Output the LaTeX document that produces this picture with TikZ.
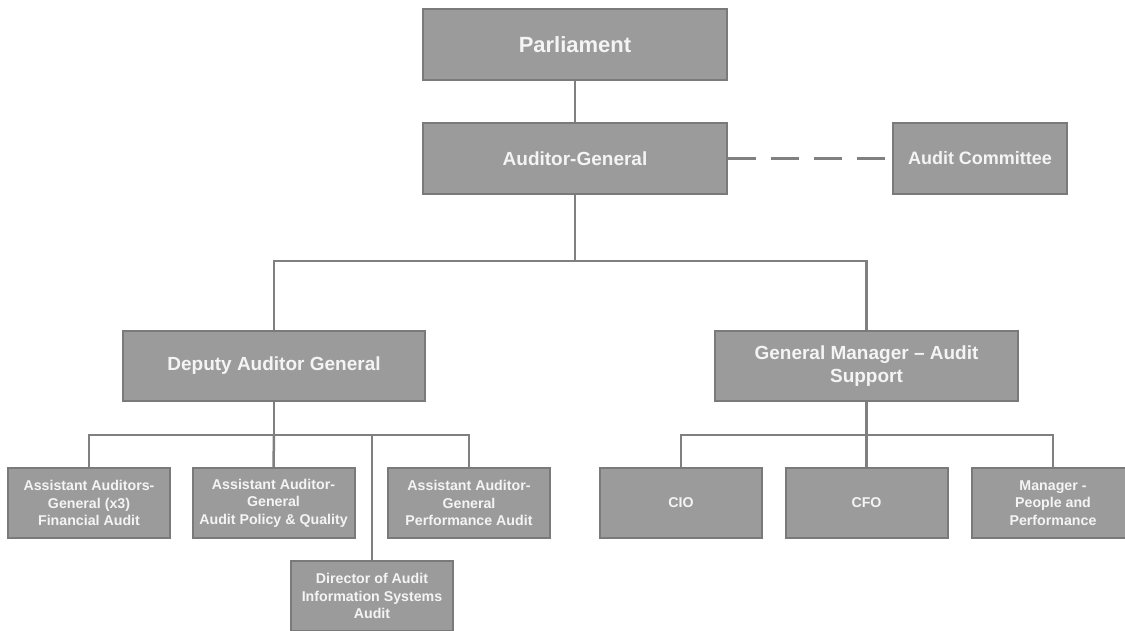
\documentclass[tikz,border=0pt]{standalone}
\usepackage{fontspec}
\setmainfont{Liberation Sans}
\definecolor{boxfill}{HTML}{9B9B9B}
\definecolor{boxline}{HTML}{7A7A7A}
\definecolor{linkline}{HTML}{808080}
\definecolor{boxtext}{HTML}{F4F4F4}

\begin{document}
\begin{tikzpicture}[x=1pt,y=-1pt,
    box/.style={rectangle,draw=boxline,line width=2pt,fill=boxfill,
      text=boxtext,align=center,inner sep=0pt,font=\bfseries},
    headbox/.style={box,minimum width=304,minimum height=71},
    unitbox/.style={box,minimum width=162,minimum height=70,
      font=\bfseries\fontsize{14.2}{17.5}\selectfont},
    link/.style={draw=linkline,line width=2.5pt}]

        \useasboundingbox (0,0) rectangle (1125,630);
        \clip (0,0) rectangle (1125,630);

        \coordinate (bus1) at (0,261);
        \coordinate (bus2) at (0,435);

        \begin{scope}[every node/.style={headbox}]
          \node[font=\bfseries\fontsize{22}{26}\selectfont] (parl) at (575,44.5) {Parliament};
          \node[font=\bfseries\fontsize{19}{23}\selectfont] (ag)   at (575,158.5) {Auditor-General};
          \node[minimum width=174,font=\bfseries\fontsize{18}{22}\selectfont] (ac) at (980,158.5) {Audit Committee};
          \node[minimum width=302,minimum height=70,font=\bfseries\fontsize{19}{23}\selectfont] (dag) at (274,366) {Deputy Auditor General};
          \node[minimum width=303,minimum height=70,font=\bfseries\fontsize{19}{23}\selectfont] (gm)  at (866.5,366) {General Manager -- Audit\\Support};
        \end{scope}

        \begin{scope}[every node/.style={unitbox}]
          \node (aafa) at (89,503)    {Assistant Auditors-\\General (x3)\\Financial Audit};
          \node (aapq) at (273.5,503) {Assistant Auditor-\\General\\Audit Policy \& Quality};
          \node (aapa) at (469,503)   {Assistant Auditor-\\General\\Performance Audit};
          \node (dis)  at (372,596)   {Director of Audit\\Information Systems\\Audit};
          \node (cio)  at (681,503)   {CIO};
          \node (cfo)  at (866.5,503) {CFO};
          \node (mpp)  at (1053,503)  {Manager -\\People and\\Performance};
        \end{scope}

        \begin{scope}[every path/.style={link}]
          \path (parl) edge (ag);
          \draw[dash pattern=on 28pt off 15pt] (ag.east) -- (ac.west);

          \draw (ag.south) -- (ag.south |- bus1) -| (dag.north);
          \draw (ag.south |- bus1) -| (gm.north);

          \draw (dag.south) -- (dag.south |- bus2) -| (aafa.north);
          \draw (dag.south |- bus2) -| (aapa.north);
          \draw (dag.south |- bus2) -- (aapq.north);
          \draw (dis.north |- bus2) -- (dis.north);

          \draw (gm.south) -- (gm.south |- bus2) -| (cio.north);
          \draw (gm.south |- bus2) -| (mpp.north);
          \draw (gm.south |- bus2) -- (cfo.north);
        \end{scope}

      \end{tikzpicture}
\end{document}
